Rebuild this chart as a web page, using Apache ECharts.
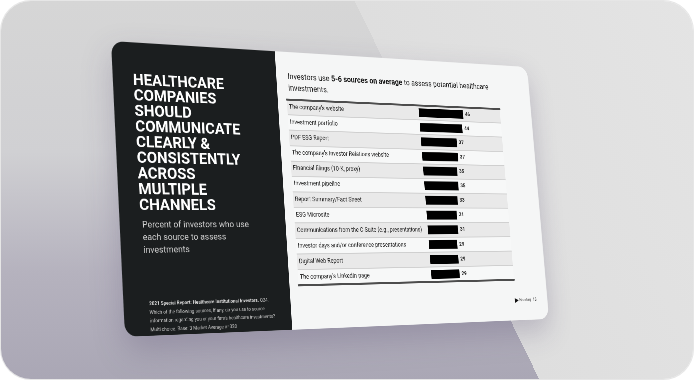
<!DOCTYPE html>
<html>
<head>
<meta charset="utf-8">
<script src="https://cdn.jsdelivr.net/npm/echarts@6/dist/echarts.min.js"></script>
<style>
  html, body { margin: 0; padding: 0; background: #ffffff; }
  #wrap { position: relative; width: 694px; height: 380px; overflow: hidden; }
  #frame {
    position: absolute; left: 1px; top: 1px; width: 692px; height: 378px;
    border-radius: 30px; overflow: hidden;
    background:
      linear-gradient(64deg, rgba(0,0,0,0) 61.4%, #dedede 61.4%, #e4e4e4 100%),
      linear-gradient(180deg, #d6d6d6 0%, #d0d0d3 40%, #b5b2be 72%, #aaa7b5 100%);
    box-shadow: 0 0 0 1px #e6e6e6;
  }
  #slide {
    position: absolute; left: 0; top: 0; width: 960px; height: 540px;
    transform-origin: 0 0;
    border-radius: 24px;
    box-shadow: 0 24px 60px rgba(70, 60, 100, 0.25);
  }
</style>
</head>
<body>
<div id="wrap">
  <div id="frame"></div>
  <div id="slide"></div>
</div>
<script>
// ---- data ----
const categories = [
  "The company's website",
  "Investment portfolio",
  "PDF ESG Report",
  "The company's Investor Relations website",
  "Financial filings (10-K, proxy)",
  "Investment pipeline",
  "Report Summary/Fact Sheet",
  "ESG Microsite",
  "Communications from the C-Suite (e.g., presentations)",
  "Investor days and/or conference presentations",
  "Digital Web Report",
  "The company's LinkedIn page"
];
const values = [46, 44, 37, 37, 35, 35, 33, 31, 31, 29, 29, 29];
const headlineLines = ["HEALTHCARE", "COMPANIES", "SHOULD", "COMMUNICATE", "CLEARLY &", "CONSISTENTLY", "ACROSS", "MULTIPLE", "CHANNELS"];
const subtitleLines = ["Percent of investors who use", "each source to assess", "investments"];
const footnoteBold = "2021 Special Report: Healthcare Institutional Investors.";
const footnoteLines = [
  " Q24.",
  "Which of the following sources, if any, do you use to source",
  "information regarding you or your firm's healthcare investments?",
  "Multi choice. Base: 3 Market Average n=320"
];
const panelTitleA = "Investors use ";
const panelTitleB = "5-6 sources on average";
const panelTitleC = " to assess potential healthcare";
const panelTitleD = "investments.";
const footerText = "Nasdaq";
const pageNumber = "13";

// ---- perspective placement of the slide ----
const SW = 960, SH = 540;
const corners = [[111, 41], [527, 67], [549, 319], [125, 337]];
function homography(W, H, p) {
  const [x0, y0] = p[0], [x1, y1] = p[1], [x2, y2] = p[2], [x3, y3] = p[3];
  const dx1 = x1 - x2, dx2 = x3 - x2, dy1 = y1 - y2, dy2 = y3 - y2;
  const sx = x0 - x1 + x2 - x3, sy = y0 - y1 + y2 - y3;
  const det = dx1 * dy2 - dx2 * dy1;
  const g = (sx * dy2 - dx2 * sy) / det, h = (dx1 * sy - sx * dy1) / det;
  const a = x1 - x0 + g * x1, b = x3 - x0 + h * x3, c = x0;
  const d = y1 - y0 + g * y1, e = y3 - y0 + h * y3, f = y0;
  return 'matrix3d(' + [a / W, d / W, 0, g / W, b / H, e / H, 0, h / H, 0, 0, 1, 0, c, f, 0, 1].join(',') + ')';
}
const slideEl = document.getElementById('slide');
slideEl.style.transform = homography(SW, SH, corners);

const FONT = "Roboto, 'Liberation Sans', sans-serif";
const DARK_W = 342;
const chart = echarts.init(slideEl, null, { renderer: 'canvas' });

const option = {
  animation: false,
  backgroundColor: 'transparent',
  graphic: [
    { type: 'rect', z: -10, shape: { x: DARK_W, y: 0, width: SW - DARK_W, height: SH, r: [0, 24, 24, 0] }, style: { fill: '#f5f6f6' } },
    { type: 'rect', z: -10, shape: { x: 0, y: 0, width: DARK_W, height: SH, r: [24, 0, 0, 24] }, style: { fill: '#1b1e1f' } }
  ],
  title: [
    {
      text: headlineLines.join('\n'), left: 35, top: 53,
      textStyle: { color: '#ffffff', fontFamily: FONT, fontWeight: 'bold', fontSize: 30, lineHeight: 29 }
    },
    {
      text: subtitleLines.join('\n'), left: 39, top: 323,
      textStyle: { color: '#cfcfcf', fontFamily: FONT, fontWeight: 'normal', fontSize: 17, lineHeight: 23 }
    },
    {
      text: '{b|' + footnoteBold + '}' + footnoteLines[0] + '\n' + footnoteLines.slice(1).join('\n'),
      left: 45, top: 470,
      textStyle: {
        color: '#c4c4c4', fontFamily: FONT, fontWeight: 'normal', fontSize: 9, lineHeight: 15.5,
        rich: { b: { fontWeight: 'bold', color: '#d8d8d8', fontFamily: FONT, fontSize: 9, lineHeight: 15.5 } }
      }
    },
    {
      text: panelTitleA + '{b|' + panelTitleB + '}' + panelTitleC + '\n' + panelTitleD,
      left: 362, top: 33,
      textStyle: {
        color: '#1a1a1a', fontFamily: FONT, fontWeight: 'normal', fontSize: 16, lineHeight: 23,
        rich: { b: { fontWeight: 'bold', color: '#111111', fontFamily: FONT, fontSize: 16, lineHeight: 23 } }
      }
    },
    {
      text: '{i|\u25B6}{t| ' + footerText + '}  ' + pageNumber, left: 870, top: 488,
      textStyle: {
        color: '#555555', fontFamily: FONT, fontSize: 9,
        rich: { i: { color: '#111', fontSize: 12, fontWeight: 'bold' }, t: { color: '#777', fontSize: 9, fontFamily: FONT } }
      }
    }
  ],
  grid: { left: 362, right: 83, top: 95, bottom: 84, containLabel: false },
  xAxis: [
    {
      type: 'value', min: -128, max: 86, position: 'bottom',
      axisLine: { show: true, onZero: false, lineStyle: { color: '#4d4d4d', width: 4 } },
      axisTick: { show: false }, axisLabel: { show: false }, splitLine: { show: false }
    },
    {
      type: 'value', min: -128, max: 86, position: 'top',
      axisLine: { show: true, onZero: false, lineStyle: { color: '#4d4d4d', width: 4 } },
      axisTick: { show: false }, axisLabel: { show: false }, splitLine: { show: false }
    }
  ],
  yAxis: {
    type: 'category', data: categories, inverse: true,
    axisLine: { show: false }, axisTick: { show: false },
    axisLabel: { inside: true, margin: 4, color: '#222222', fontFamily: FONT, fontSize: 12 },
    splitLine: { show: true, lineStyle: { color: '#c6c6c6', width: 1.5 } },
    splitArea: { show: true, areaStyle: { color: ['#e9e9e9', '#f7f8f8'] } }
  },
  series: [{
    type: 'bar', xAxisIndex: 0, data: values, barWidth: 18, z: 3,
    itemStyle: { color: '#000000' },
    label: { show: true, position: 'right', distance: 5, color: '#222222', fontFamily: FONT, fontSize: 11, fontWeight: 'bold' }
  }]
};
chart.setOption(option);
</script>
</body>
</html>
